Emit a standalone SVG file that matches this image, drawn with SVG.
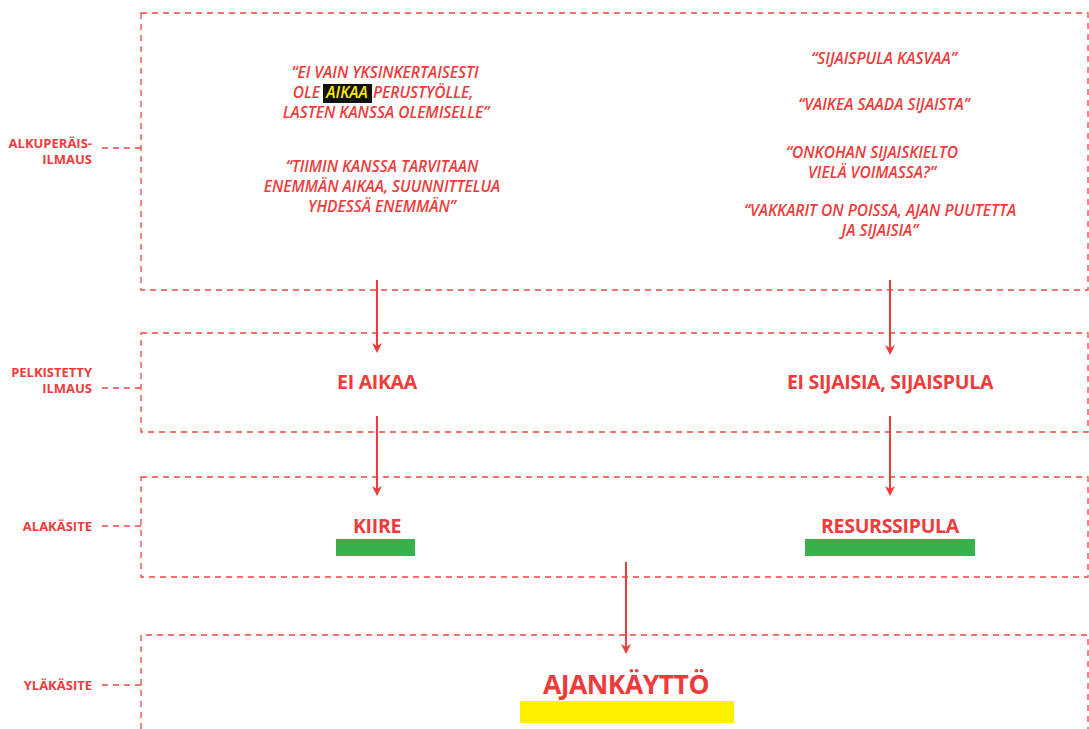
<svg xmlns="http://www.w3.org/2000/svg" width="1089" height="729" viewBox="0 0 1089 729">
  <defs>
    <style>
      .frame { fill: none; stroke: #ef4444; stroke-width: 1.3; stroke-dasharray: 6 5; }
      .lead { fill: none; stroke: #ef4444; stroke-width: 1.3; stroke-dasharray: 6 5; }
      .link { stroke: #ee3b3b; stroke-width: 2; fill: none; marker-end: url(#head); }
      .quote { font-family: "Open Sans", "Liberation Sans", sans-serif; font-style: italic; font-weight: 600; font-size: 15.5px; fill: #ee3b3b; text-anchor: middle; }
      .tag { font-family: "Open Sans", "Liberation Sans", sans-serif; font-weight: 700; font-size: 13px; fill: #ee3b3b; text-anchor: end; }
      .term { font-family: "Open Sans", "Liberation Sans", sans-serif; font-weight: 700; font-size: 19.5px; fill: #ee3b3b; text-anchor: middle; letter-spacing: -0.3px; }
      .main { font-family: "Open Sans", "Liberation Sans", sans-serif; font-weight: 700; font-size: 26.5px; fill: #ee3b3b; text-anchor: middle; letter-spacing: -0.5px; }
    </style>
    <marker id="head" markerWidth="10" markerHeight="10" refX="8" refY="5" orient="auto" markerUnits="userSpaceOnUse">
      <path d="M0,0 L10,5 L0,10 L3,5 Z" fill="#ee3b3b"/>
    </marker>
  </defs>
  <rect width="1089" height="729" fill="#ffffff"/>

  <!-- level frames -->
  <g id="level-frames">
    <path class="frame" d="M141,13 H1088 V290 H141 Z"/>
    <path class="frame" d="M141,333 H1088 V432 H141 Z"/>
    <path class="frame" d="M141,477 H1088 V577 H141 Z"/>
    <path class="frame" d="M141,740 V635 H1088 V740"/>
  </g>

  <!-- level tags with leaders -->
  <g id="tag-alkuperais">
    <text class="tag" x="92" y="148">ALKUPERÄIS-</text>
    <text class="tag" x="92" y="164">ILMAUS</text>
    <line class="lead" x1="102" y1="148" x2="141" y2="148"/>
  </g>
  <g id="tag-pelkistetty">
    <text class="tag" x="92" y="377">PELKISTETTY</text>
    <text class="tag" x="92" y="393">ILMAUS</text>
    <line class="lead" x1="102" y1="388" x2="141" y2="388"/>
  </g>
  <g id="tag-alakasite">
    <text class="tag" x="92" y="531">ALAKÄSITE</text>
    <line class="lead" x1="102" y1="526" x2="141" y2="526"/>
  </g>
  <g id="tag-ylakasite">
    <text class="tag" x="92" y="690">YLÄKÄSITE</text>
    <line class="lead" x1="102" y1="685" x2="141" y2="685"/>
  </g>

  <!-- original quotes -->
  <g id="quotes-time">
    <text class="quote" x="385" y="78">“EI VAIN YKSINKERTAISESTI</text>
    <rect x="323" y="84" width="49" height="19" fill="#111111"/>
    <text class="quote" x="320" y="98" style="text-anchor:end">OLE</text>
    <text class="quote" x="347" y="98" fill="#ffee00" style="fill:#ffee00">AIKAA</text>
    <text class="quote" x="373" y="98" style="text-anchor:start">PERUSTYÖLLE,</text>
    <text class="quote" x="386" y="118">LASTEN KANSSA OLEMISELLE”</text>
    <text class="quote" x="382" y="172">“TIIMIN KANSSA TARVITAAN</text>
    <text class="quote" x="382" y="192">ENEMMÄN AIKAA, SUUNNITTELUA</text>
    <text class="quote" x="382" y="212">YHDESSÄ ENEMMÄN”</text>
  </g>
  <g id="quotes-substitutes">
    <text class="quote" x="884" y="64">“SIJAISPULA KASVAA”</text>
    <text class="quote" x="884" y="110">“VAIKEA SAADA SIJAISTA”</text>
    <text class="quote" x="872" y="158">“ONKOHAN SIJAISKIELTO</text>
    <text class="quote" x="872" y="178">VIELÄ VOIMASSA?”</text>
    <text class="quote" x="880" y="216">“VAKKARIT ON POISSA, AJAN PUUTETTA</text>
    <text class="quote" x="880" y="236">JA SIJAISIA”</text>
  </g>

  <!-- reduced expressions -->
  <g id="reduced-time">
    <text class="term" x="377" y="389">EI AIKAA</text>
  </g>
  <g id="reduced-substitutes">
    <text class="term" x="890" y="389">EI SIJAISIA, SIJAISPULA</text>
  </g>

  <!-- sub-concepts -->
  <g id="sub-kiire">
    <text class="term" x="377" y="533">KIIRE</text>
    <rect x="336" y="539" width="79" height="17" fill="#39b14a"/>
  </g>
  <g id="sub-resurssipula">
    <text class="term" x="890" y="533">RESURSSIPULA</text>
    <rect x="805" y="539" width="170" height="17" fill="#39b14a"/>
  </g>

  <!-- main concept -->
  <g id="main-ajankaytto">
    <text class="main" x="626" y="694">AJANKÄYTTÖ</text>
    <rect x="520" y="701" width="214" height="22" fill="#fff200"/>
  </g>

  <!-- connectors -->
  <g id="connectors">
    <line class="link" x1="377" y1="280" x2="377" y2="351"/>
    <line class="link" x1="890" y1="280" x2="890" y2="353"/>
    <line class="link" x1="377" y1="416" x2="377" y2="494"/>
    <line class="link" x1="890" y1="416" x2="890" y2="494"/>
    <line class="link" x1="626" y1="562" x2="626" y2="652"/>
  </g>
</svg>
